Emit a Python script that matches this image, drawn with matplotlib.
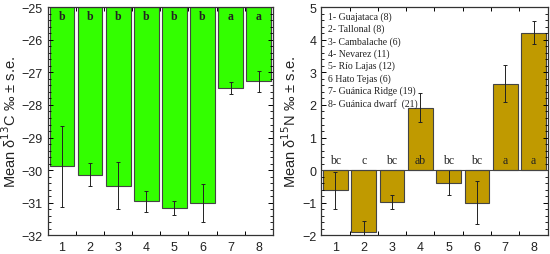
import matplotlib.pyplot as plt
from matplotlib.ticker import AutoMinorLocator, FixedLocator
import numpy as np

sites = [1, 2, 3, 4, 5, 6, 7, 8]

d13c = [-29.88, -30.14, -30.47, -30.95, -31.15, -31.0, -27.48, -27.28]
d13c_se = [1.25, 0.35, 0.72, 0.32, 0.21, 0.59, 0.18, 0.33]
d13c_grp = ["b", "b", "b", "b", "b", "b", "a", "a"]

d15n = [-0.62, -1.9, -0.98, 1.92, -0.38, -1.0, 2.65, 4.22]
d15n_se = [0.57, 0.33, 0.22, 0.44, 0.38, 0.66, 0.57, 0.35]
d15n_grp = ["bc", "c", "bc", "ab", "bc", "bc", "a", "a"]

site_names = ["1- Guajataca (8)", "2- Tallonal (8)", "3- Cambalache (6)",
              "4- Nevarez (11)", "5- Río Lajas (12)", "6 Hato Tejas (6)",
              "7- Guánica Ridge (19)", "8- Guánica dwarf  (21)"]

plt.rcParams['font.family'] = ['Liberation Sans', 'DejaVu Sans']
serif = ['Liberation Serif', 'DejaVu Serif']

fig = plt.figure(figsize=(5.5, 2.55), dpi=100)
ax1 = fig.add_axes([0.087, 0.073, 0.409, 0.895])
ax2 = fig.add_axes([0.584, 0.073, 0.412, 0.895])

x = np.array(sites)


def style(ax, lo, hi):
    ax.set_xlim(0.5, 8.5)
    ax.set_ylim(lo, hi)
    ax.set_yticks(range(lo, hi + 1))
    ax.yaxis.set_minor_locator(AutoMinorLocator(5))
    ax.set_xticks(sites)
    ax.xaxis.set_minor_locator(FixedLocator(x[:-1] + 0.5))
    ax.tick_params(axis='x', which='major', length=0, labelsize=9, pad=4,
                   labelcolor='#222222')
    ax.tick_params(axis='x', which='minor', length=3, direction='in',
                   top=True, width=0.7)
    ax.tick_params(axis='y', which='major', length=3.5, direction='in',
                   right=True, labelsize=9, width=0.7, labelcolor='#222222')
    ax.tick_params(axis='y', which='minor', length=2, direction='in',
                   right=True, width=0.6)
    for s in ax.spines.values():
        s.set_linewidth(0.9)
        s.set_color('#333333')


# left: d13C, bars hang from the top
top = -25
ax1.bar(x, np.array(d13c) - top, bottom=top, width=0.88, color='#33ff00',
        edgecolor='#444444', linewidth=0.8)
ax1.errorbar(x, d13c, yerr=d13c_se, fmt='none', ecolor='#222222',
             elinewidth=0.7, capsize=1.5, capthick=0.7)
for xi, g in zip(x, d13c_grp):
    ax1.text(xi, -25.28, g, ha='center', va='center', fontsize=8.5,
             family=serif, fontweight='bold', color='#222222')
style(ax1, -32, -25)
ax1.set_ylabel("Mean δ$^{13}$C ‰ ± s.e.", fontsize=10.5, labelpad=2,
               color='#222222')

# right: d15N
ax2.bar(x, d15n, width=0.88, color='#c09a00', edgecolor='#444444',
        linewidth=0.8)
ax2.errorbar(x, d15n, yerr=d15n_se, fmt='none', ecolor='#222222',
             elinewidth=0.7, capsize=1.5, capthick=0.7)
ax2.axhline(0, color='#444444', linewidth=0.8)
for xi, g in zip(x, d15n_grp):
    ax2.text(xi, 0.3, g, ha='center', va='center', fontsize=8.5,
             family=serif, color='#222222')
style(ax2, -2, 5)
ax2.set_ylabel("Mean δ$^{15}$N ‰ ± s.e.", fontsize=10.5, labelpad=2,
               color='#222222')

for i, name in enumerate(site_names):
    ax2.text(0.03, 0.962 - i * 0.0545, name, transform=ax2.transAxes,
             ha='left', va='center', fontsize=7, family=serif,
             color='#222222')

fig.savefig('out.png', dpi=100)
